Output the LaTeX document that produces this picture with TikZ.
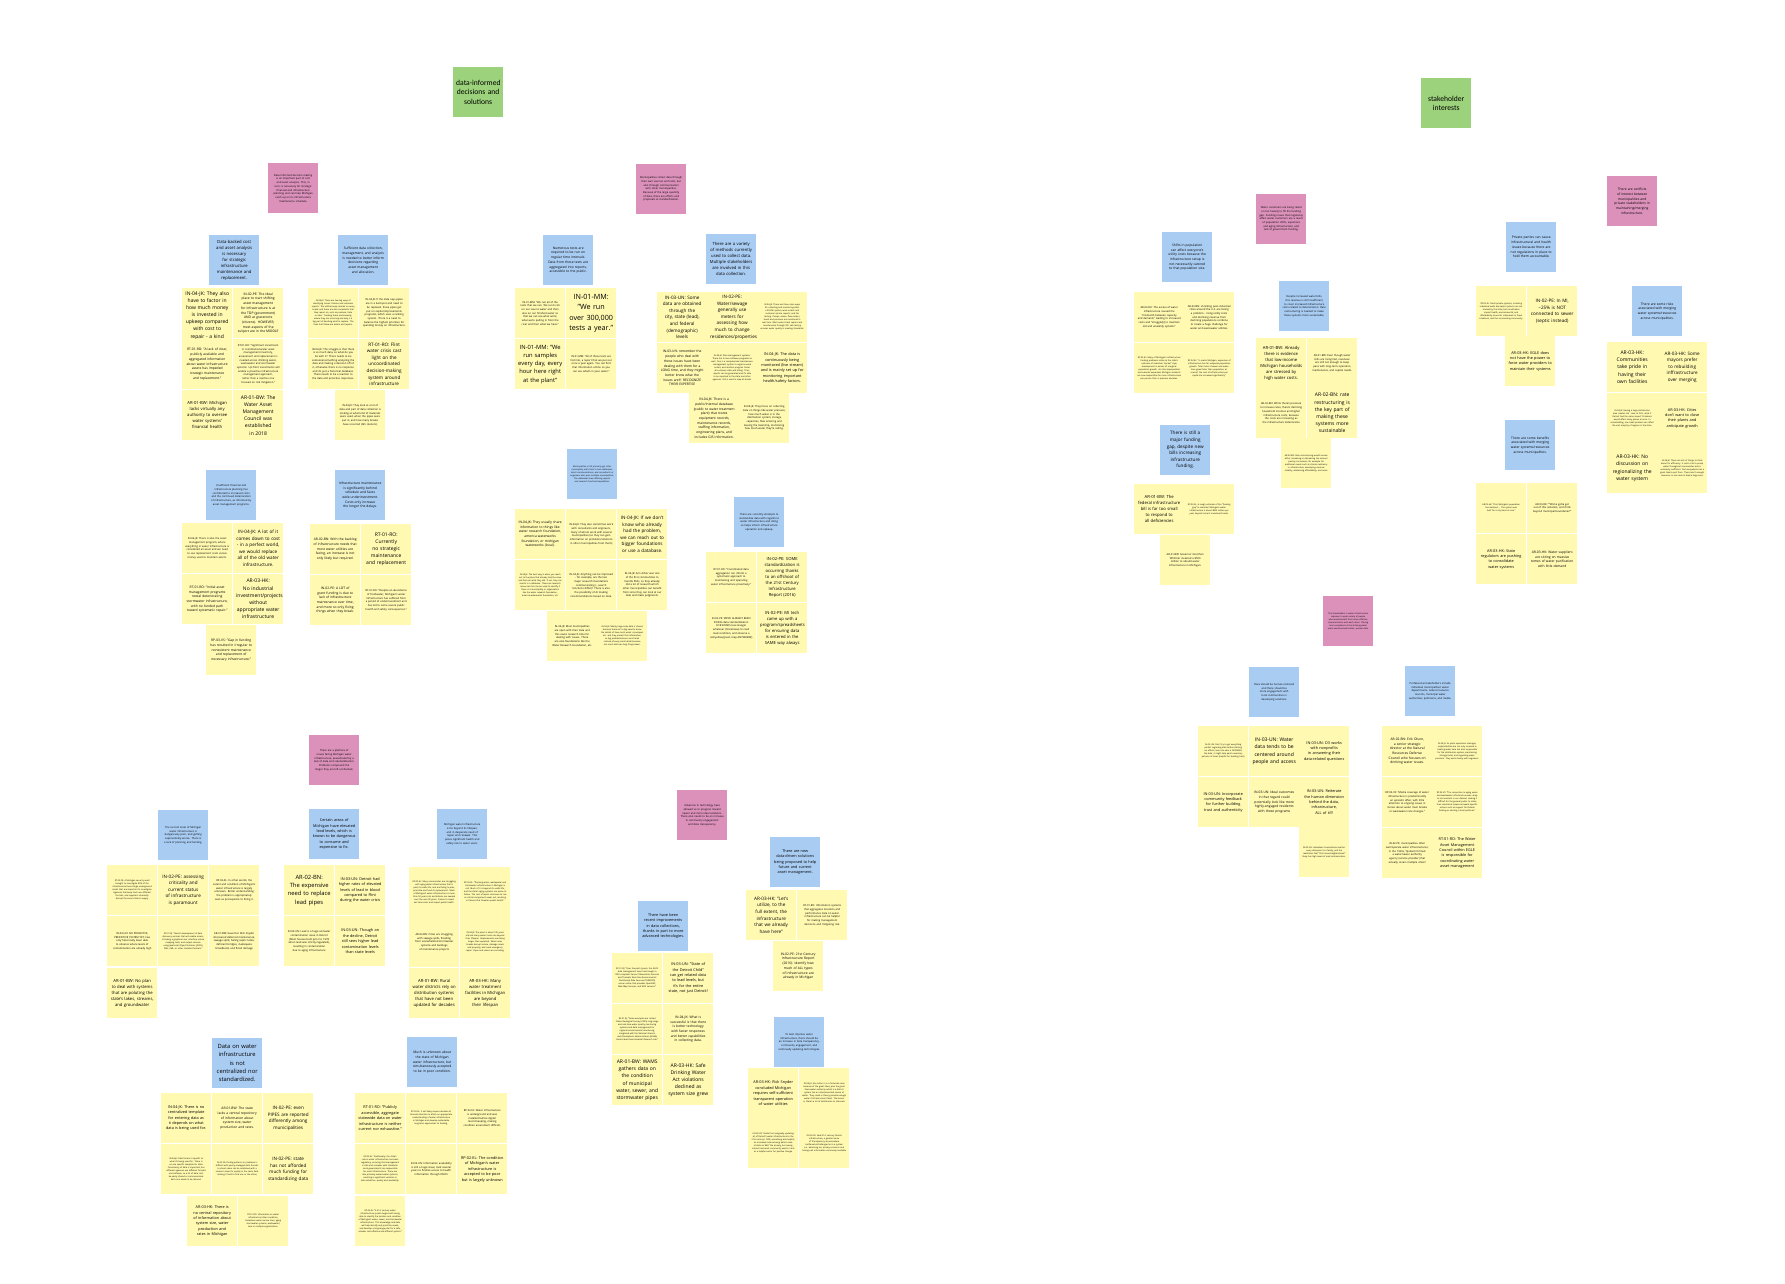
\documentclass[tikz,border=0pt]{standalone}
\usepackage{fontspec}
\setmainfont{Open Sans}
\newfontfamily\headfont{Carlito}
\definecolor{stickyyellow}{HTML}{FFF9B1}
\definecolor{stickyblue}{HTML}{A9CCF3}
\definecolor{stickypink}{HTML}{DB91BA}
\definecolor{stickygreen}{HTML}{9CD27B}
\hyphenpenalty=10000
\exhyphenpenalty=10000
\pgfkeys{tikz/stickynote/.style={anchor=north west,minimum width=50pt,minimum height=50pt,text width=44pt,inner sep=3pt,align=center}}
\pgfkeys{tikz/yel/.style={stickynote,fill=stickyyellow}}
\pgfkeys{tikz/blu/.style={stickynote,fill=stickyblue}}
\pgfkeys{tikz/pnk/.style={stickynote,fill=stickypink}}
\pgfkeys{tikz/grn/.style={stickynote,fill=stickygreen,font=\headfont\fontsize{7.6}{9.4}\selectfont}}
\pgfkeys{tikz/fA/.style={font=\fontsize{7.2}{10.6}\selectfont}}
\pgfkeys{tikz/fB/.style={font=\fontsize{5.8}{8.3}\selectfont}}
\pgfkeys{tikz/fC/.style={font=\fontsize{5.0}{7.2}\selectfont}}
\pgfkeys{tikz/fCC/.style={font=\fontsize{4.6}{6.6}\selectfont}}
\pgfkeys{tikz/fD/.style={font=\fontsize{4.2}{6.0}\selectfont}}
\pgfkeys{tikz/fDD/.style={font=\fontsize{3.8}{5.4}\selectfont}}
\pgfkeys{tikz/fE/.style={font=\fontsize{3.3}{4.7}\selectfont}}
\pgfkeys{tikz/fF/.style={font=\fontsize{2.6}{3.7}\selectfont}}
\pgfkeys{tikz/fG/.style={font=\fontsize{2.1}{3.0}\selectfont}}
\begin{document}
\begin{tikzpicture}[x=1pt,y=-1pt]
\useasboundingbox[fill=white] (0,0) rectangle (1785,1284);
% themes
\draw (453,67) node[grn] (theme1) {data-informed decisions and solutions};
\draw (1421,78) node[grn] (theme2) {stakeholder interests};
% cost and asset analysis
\draw (268,163) node[pnk,fF] (pa) {Data-informed decision making is an important part of cost and asset analysis. This, in turn, is necessary for strategic financial and infrastructure planning and can help Michigan catch up on its infrastructure maintenance schedule.};
\draw (209,235) node[blu,fD] (ba1) {Data-backed cost and asset analysis is necessary for strategic infrastructure maintenance and replacement.};
\draw (338,235) node[blu,fE] (ba2) {Sufficient data collection, management, and analysis is needed to better inform decisions regarding asset management and allocation.};
\draw (182,288) node[yel,fC] (a1) {IN-04-JK: They also have to factor in how much money is invested in upkeep compared with cost to repair - a kind of cost analysis.};
\draw (233,288) node[yel,fE] (a2) {IN-02-PE: The ideal place to start shifting asset management for infrastructure is at the TOP (government) AND at grassroots (citizens). HOWEVER, most aspects of the subject are in the MIDDLE};
\draw (182,339) node[yel,fE] (a3) {RT-01-RO: "A lack of clear, publicly available and aggregated information about water infrastructure assets has impeded strategic maintenance and replacement."};
\draw (233,339) node[yel,fF] (a4) {RT-01-RO: "Significant investment in coordinated water asset management inventory, assessment and replacement is needed across drinking water, wastewater and stormwater systems. Up-front investments will enable a proactive infrastructure management approach, rather than a reactive one focused on risk mitigation."};
\draw (182,390) node[yel,fD] (a5) {AR-01-BW: Michigan lacks virtually any authority to oversee water systems' financial health};
\draw (233,390) node[yel,fC] (a6) {AR-01-BW: The Water Asset Management Council was established in 2018};
\draw (308,288) node[yel,fG] (a7) {IN-04-JK: There are two big ways of identifying issues: failures and customer reports. The utilities keep records on every break, and there are also complaints that they report on, such as pressure, taste or odor. Tracking these and knowing where they are occurring and why is a big part of deciding what to replace. The fixes that follow are assets and repairs.};
\draw (359,288) node[yel,fF] (a8) {IN-04-JK: If the data says pipes are in a bad spot and need to be replaced, these pipes get put on capital improvements programs, which uses a ranking system. There is a need to balance the highest priorities for spending money on infrastructure.};
\draw (308,339) node[yel,fF] (a9) {IN-04-JK: The struggle is that there is so much data, so what do you do with it? There needs to be someone/something analyzing the data and making a decision off of it, otherwise there is no response and it's just a historical database. There needs to be a reaction to the data and proactive responses.};
\draw (359,339) node[yel,fCC] (a10) {RT-01-RO: Flint water crisis cast light on the uncoordinated decision-making system around infrastructure};
\draw (335,390) node[yel,fF] (a11) {IN-04-JK: They look at a lot of data and part of data collection is looking at what kind of materials were used, when the pipes were put in, and how many breaks have occurred (GIS clusters).};
% planning and maintenance
\draw (206,470) node[blu,fF] (bb1) {Insufficient financial and infrastructure planning has contributed to increased costs and the continued deterioration of infrastructure, as informed by asset management programs.};
\draw (335,470) node[blu,fE] (bb2) {Infrastructure maintenance is significantly behind schedule and faces wide underinvestment. Costs only increase the longer the delays.};
\draw (182,523) node[yel,fF] (b1) {IN-04-JK: There is also the asset management program, where everything in water infrastructure is considered an asset and we need to see replacement costs versus money used to maintain assets.};
\draw (233,523) node[yel,fCC] (b2) {IN-04-JK: A lot of it comes down to cost - in a perfect world, we would replace all of the old water infrastructure.};
\draw (182,574) node[yel,fE] (b3) {RT-01-RO: "Initial asset management programs reveal deteriorating stormwater infrastructure, with no funded path toward systematic repair."};
\draw (233,574) node[yel,fC] (b4) {AR-03-HK: No industrial investment/projects without appropriate water infrastructure};
\draw (206,625) node[yel,fE] (b5) {RP-03-VS: "Gap in funding has resulted in irregular to nonexistent maintenance and replacement of necessary infrastructure."};
\draw (310,524) node[yel,fE] (b6) {AR-02-BN: With the backlog of infrastructure needs that most water utilities are facing, an increase is not only likely but required.};
\draw (361,524) node[yel,fC] (b7) {RT-01-RO: Currently no strategic maintenance and replacement};
\draw (310,575) node[yel,fE] (b8) {IN-02-PE: A LOT of grant funding is due to lack of infrastructure maintenance over time, and more so only fixing things when they break.};
\draw (361,575) node[yel,fF] (b9) {RT-01-RO: "Despite an abundance of freshwater, Michigan's water infrastructure has suffered from a period of underinvestment and has led to some severe public health and safety consequences."};
% collecting data
\draw (636,164) node[pnk,fF] (pc) {Municipalities collect data through their own sources and tests, but also through communication with other municipalities. Because of the large quantity of data, there are efforts and proposals at standardization.};
\draw (543,235) node[blu,fE] (bc1) {Numerous tests are required to be run on regular time intervals. Data from these tests are aggregated into reports, accessible to the public.};
\draw (706,234) node[blu,fD] (bc2) {There are a variety of methods currently used to collect data. Multiple stakeholders are involved in this data collection.};
\draw (515,288) node[yel,fF] (c1) {IN-01-MM: "We run all of the tests that we can. We run E.coli on our source water and then also on our finished water so that we can see what we're, what we're pulling in from the river and then what we have."};
\draw (566,288) node[yel,fA] (c2) {IN-01-MM: "We run over 300,000 tests a year."};
\draw (515,339) node[yel,fB] (c3) {IN-01-MM: "We run samples every day, every hour here right at the plant"};
\draw (566,339) node[yel,fF] (c4) {IN-01-MM: "All of those tests are fed into, a report that we put out once a year again. You can find that information online so you can see what's in your water."};
\draw (657,292) node[yel,fCC] (c5) {IN-03-UN: Some data are obtained through the city, state (lead), and federal (demographic) levels};
\draw (707,292) node[yel,fCC] (c6) {IN-02-PE: Water/sewage generally use meters for assessing how much to change residences/properties};
\draw (757,292) node[yel,fG] (c7) {IN-04-JK: There are three main ways for collecting and monitoring data: a SCADA system, work orders and customer service reports, and lab testing. Pumps, valves, flow meters, levels and pressure are monitored in real time. Work orders track repairs and maintenance through GIS. Lab testing ensures water quality is meeting standards.};
\draw (657,343) node[yel,fE] (c8) {IN-03-UN: remember the people who deal with these issues have been dealing with them for a LONG time, and they might better know what the issues are!!! RECOGNIZE THEIR EXPERTISE};
\draw (707,343) node[yel,fG] (c9) {IN-04-JK: Data management systems: There are 3 main software programs as well. One is a computerized maintenance management system to organize work orders, and another program tracks all customer data and billing. Then, reports can be generated and it's able to be reported to the state and other agencies. GIS is used to map all assets.};
\draw (757,343) node[yel,fDD] (c10) {IN-04-JK: The data is continuously being monitored (live stream) and is mainly set up for monitoring important health/safety factors.};
\draw (689,393) node[yel,fE] (c11) {IN-04-JK: There is a public/internal database (public to water treatment plant) that stores equipment records, maintenance records, staffing information, engineering plans, and includes GIS information.};
\draw (739,393) node[yel,fF] (c12) {IN-04-JK: They focus on collecting data on things like water pressure, how much water is in the distribution system, storage capacities, flow entering and leaving the township, monitoring how much water they're selling.};
% sharing and standardizing data
\draw (567,449) node[blu,fG] (bd1) {Municipalities in MI primarily get other municipality data from 3 main databases, direct communications, and consultants or engineers who span multiple municipalities. The databases have differing reports and research functions/capabilities.};
\draw (515,509) node[yel,fE] (d1) {IN-04-JK: They usually share information to things like: water research foundation, america waterworks foundation, or michigan waterworks (local).};
\draw (566,509) node[yel,fF] (d2) {IN-04-JK: They also sometimes work with consultants and engineers, many of whom work with several municipalities (so they can gain information on problems/solutions in other municipalities from them)};
\draw (617,509) node[yel,fCC] (d3) {IN-04-JK: If we don't know who already had the problem, we can reach out to bigger foundations or use a database.};
\draw (515,560) node[yel,fG] (d4) {IN-04-JK: The best way is when you reach out to the place that already had the issue and find out what they did. If not, they can search in a database. These are research resources that can be used to identify if there is a municipality or organization like the water research foundation, america waterworks foundation, etc.};
\draw (566,560) node[yel,fF] (d5) {IN-04-JK: Anything can be improved - for example, are the two major research foundations communicating (...search functions differ)? There is also the possibility of AI making recommendations based on data.};
\draw (617,560) node[yel,fF] (d6) {IN-04-JK: Ann Arbor was one of the first communities to handle PFAs, so they already did a lot of research which other municipalities can benefit from since they can look at our data and make judgments.};
\draw (547,611) node[yel,fF] (d7) {IN-04-JK: Most municipalities are open with their data and this saves research time for dealing with issues. There are also foundations like the Water Research Foundation, etc.};
\draw (597,611) node[yel,fG] (d8) {IN-04-JK: Mainly large-scale data is shared because there isn't a big need to know the details of how much water is pumped, etc. and they protect that information, so big problems/issues are shared instead of every small detail because too much data can bog things down.};
\draw (734,497) node[blu,fF] (bd2) {There are currently attempts to standardize data with regards to water infrastructure and doing so helps inform infrastructure operation and upkeep.};
\draw (706,552) node[yel,fF] (d9) {RT-01-RO: "Coordinated data aggregation can inform a systematic approach to maintaining and operating water infrastructure proactively."};
\draw (757,552) node[yel,fD] (d10) {IN-02-PE: SOME standardization is occurring thanks to an offshoot of the 21st Century Infrastructure Report (2016)};
\draw (706,603) node[yel,fF] (d11) {IN-02-PE: WE'VE ALREADY BEEN DOING data standardization FOR ROADS (see Google whatever (Streetview) to read road condition, and observe a red/yellow/green map ANYWHERE)};
\draw (757,603) node[yel,fD] (d12) {IN-02-PE: MI tech came up with a program/spreadsheets for ensuring data is entered in the SAME way always};
% state of infrastructure
\draw (309,735) node[pnk,fF] (pe) {There are a plethora of issues facing Michigan water infrastructure, exacerbated by a lack of data and standardization. Problems compound the longer they are left unchecked.};
\draw (158,810) node[blu,fF] (be1) {The current state of Michigan water infrastructure is dangerously poor, and getting exponentially worse. There is a lack of planning and funding.};
\draw (309,809) node[blu,fDD] (be2) {Certain areas of Michigan have elevated lead levels, which is known to be dangerous to consume and expensive to fix.};
\draw (437,809) node[blu,fF] (be3) {Michigan water infrastructure is far beyond its lifespan, and in desperate need of repair and renewal. This poses significant health and safety risk to water users.};
\draw (107,865) node[yel,fG] (e1) {RT-02-PE: A Michigan security audit brought to investigate 80\% of the infrastructure found large underground assets that are important to investigate. Agencies that keep track use different formats, and suppliers inherently disrupt the same citizen's supply.};
\draw (158,865) node[yel,fCC] (e2) {IN-02-PE: assessing criticality and current status of infrastructure is paramount};
\draw (209,865) node[yel,fF] (e3) {RP-02-EL: In other words, the extent and condition of Michigan's water infrastructure is largely unknown. Better understanding the problem is appropriately seen as prerequisite to fixing it.};
\draw (107,916) node[yel,fF] (e4) {IN-03-UN: NO PROACTIVE, PREDICTIVE SYSTEM YET; Has only historically been able to observe where levels of contamination are already high};
\draw (158,916) node[yel,fG] (e5) {RP-01-RJ: "Recent development of data discovery services that will enable access, including a graphical user interface, online mapping tools, and output services using JavaScript Object Notation (JSON), XML, KML, or other standard formats."};
\draw (209,916) node[yel,fF] (e6) {AR-01-BW: Governor Rick Snyder discovered deferred maintenance, sewage spills, failing septic tanks, deficient bridges, inadequate broadband, and flood damage};
\draw (107,968) node[yel,fD] (e7) {AR-01-BW: No plan to deal with systems that are poluting the state's lakes, streams, and groundwater};
\draw (284,865) node[yel,fB] (e8) {AR-02-BN: The expensive need to replace lead pipes};
\draw (335,865) node[yel,fDD] (e9) {IN-03-UN: Detroit had higher rates of elevated levels of lead in blood compared to Flint during the water crisis};
\draw (284,916) node[yel,fF] (e10) {IN-03-UN: Lead is a huge air/water contamination issue in Detroit (Most houses built prior to 1978 when lead was strictly regulated), resulting in contamination due to aging infrastructure};
\draw (335,916) node[yel,fDD] (e11) {IN-03-UN: Though on the decline, Detroit still sees higher lead contamination levels than state levels};
\draw (409,867) node[yel,fG] (e12) {RP-02-EL: Many communities are struggling with aging water infrastructure that is past its useful life, and are failing to plan, prioritize and fund its replacement. Much of Michigan's water infrastructure is more than 50 years old, and billions are needed over the next 20 years. Failure to invest will raise costs and impact public health.};
\draw (460,867) node[yel,fG] (e13) {RP-02-EL: "Drinking water, wastewater and stormwater infrastructure in Michigan is old. Much of it is beyond its useful life, and the state's aging systems are prone to failure. The cost of repair continues to rise as critical components wear out, resulting in failures that threaten public health."};
\draw (409,917) node[yel,fF] (e14) {AR-02-BN: Cities are struggling with sewage spills, flooding from overwhelmed stormwater systems and backlogs of maintenance projects};
\draw (460,917) node[yel,fG] (e15) {IN-04-JK: The plant is about 100 years old and many water mains are beyond their lifespan. Replacements are taking longer than expected. Water main breaks disrupt service, damage roads and property, and need emergency repair. Pipes and valves are corroding.};
\draw (409,968) node[yel,fD] (e16) {AR-01-BW: Rural water districts rely on distribution systems that have not been updated for decades};
\draw (460,968) node[yel,fD] (e17) {AR-03-HK: Many water treatment facilities in Michigan are beyond their lifespan};
% centralized data
\draw (212,1038) node[blu,fB] (bf1) {Data on water infrastructure is not centralized nor standardized.};
\draw (407,1037) node[blu,fE] (bf2) {Much is unknown about the state of Michigan water infrastructure, but simultaneously accepted to be in poor condition.};
\draw (161,1093) node[yel,fDD] (f1) {IN-04-JK: There is no centralized template for entering data as it depends on what data is being used for.};
\draw (212,1093) node[yel,fE] (f2) {AR-01-BW: The state lacks a central repository of information about system size, water production and rates.};
\draw (263,1093) node[yel,fCC] (f3) {IN-02-PE: even PIPES are reported differently among municipalities};
\draw (161,1144) node[yel,fG] (f4) {IN-04-JK: Data format is specific to what it's being used for. There is no one specific template for data. Consistency of data is important, but different agencies use different formats and software, so a lot of data can't be easily shared or communicated. Each one needs to be tailored.};
\draw (212,1144) node[yel,fG] (f5) {IN-02-PE: finding patterns in problems is difficult with poorly-managed data formats (a street name can be combined with a numeric value for quality in the same field, making it hard to find one or the other)};
\draw (263,1144) node[yel,fCC] (f6) {IN-02-PE: state has not afforded much funding for standardizing data};
\draw (187,1196) node[yel,fDD] (f7) {AR-03-HK: There is no central repository of information about system size, water production and rates in Michigan};
\draw (238,1196) node[yel,fG] (f8) {RT-01-RO: Information on water infrastructure (their condition, hazardous water service lines, aging stormwater systems, wastewater) lives in multiple organizations.};
\draw (355,1093) node[yel,fDD] (f9) {RT-01-RO: "Publicly accessible, aggregate statewide data on water infrastructure is neither current nor exhaustive."};
\draw (406,1093) node[yel,fG] (f10) {RP-02-EL: It will likely require decades of focused attention to attain an appropriate understanding of water infrastructure in Michigan and develop sustainable long-term approaches to funding.};
\draw (457,1093) node[yel,fF] (f11) {RP-02-EL: Water infrastructure is underground and was installed before digital record keeping, making condition assessment difficult.};
\draw (355,1144) node[yel,fG] (f12) {RP-02-EL: Traditionally, the state's role in water infrastructure has been regulatory, ensuring that management is safe and complies with standards. Local governments are responsible for most infrastructure. There are also privately owned water systems, resulting in significant variation in data collection, quality and availability.};
\draw (406,1144) node[yel,fF] (f13) {IN-03-UN: Information availability is still a huge issue; took several years to finalize access to health information through DHHS};
\draw (457,1144) node[yel,fDD] (f14) {RP-02-EL: The condition of Michigan's water infrastructure is accepted to be poor but is largely unknown};
\draw (355,1196) node[yel,fG] (f15) {RP-02-EL: "A 21st century water infrastructure system begins with being able to identify the location and condition of Michigan's water, sewer, and stormwater infrastructure. This knowledge and data will help identify and prioritize needs, and develop a long-range plan for a safe, reliable, cost-effective and efficient system."};
% technology and transparency
\draw (677,790) node[pnk,fF] (pg) {Advances in technology have allowed us to progress toward newer and more ideal solutions. There also needs to be an increase in community engagement and data transparency.};
\draw (770,837) node[blu,fDD] (bg1) {There are new data-driven solutions being proposed to help future and current asset management.};
\draw (746,890) node[yel,fCC] (g1) {AR-03-HK: "Let's utilize, to the full extent, the infrastructure that we already have here"};
\draw (797,890) node[yel,fF] (g2) {RT-01-RO: Information systems that aggregates locations and performance data on water infrastructure can be helpful for making management decisions and mitigating risk.};
\draw (773,941) node[yel,fE] (g3) {IN-02-PE: 21st Century Infrastructure Report (2016): identify how much of ALL types of infrastructure are already in Michigan};
\draw (638,901) node[blu,fDD] (bg2) {There have been recent improvements in data collections, thanks in part to more advanced technologies.};
\draw (612,953) node[yel,fG] (g4) {RP-01-RJ: "Over the past 4 years, the GLOS data management team has brought a OGC-compliant Sensor Observation Services and Thematic Real-time Environmental Distributed Data Services (THREDDS) server online that provides OpenDAP, Web Map Services, and WCS services."};
\draw (663,953) node[yel,fDD] (g5) {IN-03-UN: "State of the Detroit Child" can get related data to lead levels, but it's for the entire state, not just Detroit!};
\draw (612,1004) node[yel,fG] (g6) {RP-01-RJ: "Some examples are United States Geological Survey (USGS) long-range and real-time water quality monitoring systems and data management for regional environmental monitoring, integrated with the National Oceanic and Atmospheric Administration (NOAA) Great Lakes Environmental Research Lab."};
\draw (663,1004) node[yel,fE] (g7) {IN-04-JK: What is successful is that there is better technology with faster responses and better capabilities in collecting data.};
\draw (612,1055) node[yel,fC] (g8) {AR-01-BW: WAMS gathers data on the condition of municipal water, sewer, and stormwater pipes};
\draw (663,1055) node[yel,fC] (g9) {AR-03-HK: Safe Drinking Water Act violations declined as system size grew};
\draw (774,1017) node[blu,fF] (bg3) {To best improve water infrastructure, there should be an increase in data transparency, community engagement, and continually updating technologies.};
\draw (748,1068) node[yel,fDD] (g10) {AR-03-HK: Rick Snyder concluded Michigan requires self-sufficient transparent operation of water utilities};
\draw (799,1068) node[yel,fG] (g11) {IN-04-JK: Ann Arbor is in a fortunate area because of the great lakes, plus the great lakes water authority which is a district system has an interconnected source of water. They could in theory provide enough water if infrastructure failed. The lesson is, there's a lot of distribution to channels.};
\draw (748,1118) node[yel,fG] (g12) {IN-03-UN: "Aside from magically updating all of Detroit's water infrastructure to the 21st century? OOR, something else helpful; an increased culture being able to look at data on WHY the anxiety, but seeing interest and work community wants it and as a helpful vector for positive change};
\draw (799,1118) node[yel,fG] (g13) {IN-03-UN: Ideal 21st century Detroit infrastructure; a greater sense of Transparency around where bottlenecks/challenges lie in a system (i.e. balancing our privacy concerns and having vast information commonly available};
% funding
\draw (1256,194) node[pnk,fF] (ph) {Water customers are being relied on too heavily to fill the funding gap. Funding issues that negatively affect water customers are a result of population shifts, expensive and aging infrastructure, and lack of government funding.};
\draw (1162,232) node[blu,fE] (bh1) {Shifts in population can affect everyone's utility costs because the infrastructure setup is not necessarily catered to that population size.};
\draw (1279,281) node[blu,fF] (bh2) {Despite increased water bills, this revenue is still insufficient to cover increased infrastructure costs related to deterioration. Rate restructuring is needed to make these systems more sustainable.};
\draw (1134,292) node[yel,fF] (h1) {AR-03-HK: The excess of water infrastructure caused the "mismatch between capacity and demand," leading to increased costs and "struggle[s] to maintain old and unwieldy systems"};
\draw (1184,292) node[yel,fF] (h2) {AR-02-BN: shrinking post-industrial cities around the U.S. are facing a problem - rising utility costs and declining revenue from declining populations combine to create a huge challenge for water and wastewater utilities.};
\draw (1134,343) node[yel,fG] (h3) {RP-02-EL: Many of Michigan's infrastructure funding problems relate to the state's embrace of suburban "sprawl" style development in excess of marginal population growth. As cities depopulated and suburbs expanded, Michigan residents are now responsible for more infrastructure per person than in previous decades.};
\draw (1184,343) node[yel,fG] (h4) {RP-02-EL: "In metro Michigan, expansion of infrastructure has far outpaced population growth. Total miles of sewer and water lines grew faster than population; as a result, the cost of infrastructure per capita has increased significantly."};
\draw (1256,338) node[yel,fD] (h5) {AR-01-BW: Already there is evidence that low-income Michigan households are stressed by high water costs.};
\draw (1307,338) node[yel,fF] (h6) {AR-01-BW: Even though water bills are rising fast, revenues are still not enough to keep pace with long-term operation, maintenance, and capital needs.};
\draw (1256,388) node[yel,fF] (h7) {AR-02-BN: While there's pressure to increase rates, there's declining household incomes and higher infrastructure costs, because the costs are increasing as the infrastructure deteriorates};
\draw (1307,388) node[yel,fC] (h8) {AR-02-BN: rate restructuring is the key part of making these systems more sustainable};
\draw (1281,438) node[yel,fG] (h9) {AR-02-BN: Rate restructuring would involve either increasing or decreasing the amount paid by consumers, for example for additional needs such as climate resiliency in infrastructure, developing revenue stability, addressing affordability, and more};
\draw (1160,425) node[blu,fCC] (bh3) {There is still a major funding gap, despite new bills increasing infrastructure funding.};
\draw (1134,484) node[yel,fD] (h10) {AR-01-BW: The federal infrastructure bill is far too small to respond to all deficiencies};
\draw (1184,484) node[yel,fG] (h11) {RP-02-EL: A rough estimate of the "funding gap" to maintain Michigan's water infrastructure is about \$800 million per year, beyond current investment levels.};
\draw (1160,535) node[yel,fF] (h12) {AR-01-BW: Governor Gretchen Whitmer invested a \$500 million to rebuild water infrastructure in Michigan.};
% merging systems
\draw (1607,176) node[pnk,fE] (pi) {There are conflicts of interest between municipalities and private stakeholders in maintaining/merging infrastructure.};
\draw (1506,222) node[blu,fE] (bi1) {Private parties can cause infrastructural and health issues because there are not regulations in place to hold them accountable.};
\draw (1476,286) node[yel,fG] (i1) {RP-02-EL: Small private systems, including individual wells and septic systems are not tracked by the state, but nonetheless impact health, environmental, and affordability issues for individuals in these situations, and the surrounding community.};
\draw (1527,286) node[yel,fCC] (i2) {IN-02-PE: In MI, \textasciitilde25\% is NOT connected to sewer (septic instead)};
\draw (1505,336) node[yel,fDD] (i3) {AR-03-HK: EGLE does not have the power to force water providers to maintain their systems};
\draw (1632,286) node[blu,fE] (bi2) {There are some risks associated with merging water systems/resources across municipalities.};
\draw (1607,342) node[yel,fC] (i4) {AR-03-HK: Communities take pride in having their own facilities};
\draw (1657,342) node[yel,fCC] (i5) {AR-03-HK: Some mayors prefer to rebuilding inffrastructure over merging};
\draw (1607,393) node[yel,fG] (i6) {IN-04-JK: Having a large distribution area creates risk - look at Flint: what if Detroit had the same issues? Problems would affect many places at once. In consolidating, one small problem can affect the vast majority of regions in the state.};
\draw (1657,393) node[yel,fDD] (i7) {AR-03-HK: Cities don't want to close their plants and anticipate growth};
\draw (1607,443) node[yel,fC] (i8) {AR-03-HK: No discussion on regionalizing the water system};
\draw (1657,443) node[yel,fG] (i9) {IN-04-JK: There are lots of things to think about for efficiency. It costs a lot to pump water throughout communities and is extremely inefficient. Not everywhere has a great lake to pull from. There aren't enough resources in one area to feed a large area.};
\draw (1505,420) node[blu,fE] (bi3) {There are some benefits associated with merging water systems/resources across municipalities.};
\draw (1476,483) node[yel,fG] (i10) {AR-03-HK: "Flint Michigan's population has declined ... The system was built for a city twice its size."};
\draw (1527,483) node[yel,fF] (i11) {AR-03-HK: ""We've gotta get out of this isolation, and think beyond municipal boundaries""};
\draw (1476,534) node[yel,fDD] (i12) {AR-03-HK: State regulators are pushing to consolidate water systems};
\draw (1527,534) node[yel,fE] (i13) {AR-03-HK: Water suppliers are sitting on massive tomes of water purification with little demand};
% human-centered data
\draw (1323,596) node[pnk,fG] (pj) {The stakeholders in water infrastructure represent a wide variety of people who would benefit from more effective communication with each other. Placing more emphasis on the drinking water users would provide better, quicker data.};
\draw (1249,667) node[blu,fF] (bj1) {Data should be human-centered and there should be more engagement with local communities in developing solutions.};
\draw (1198,726) node[yel,fG] (j1) {IN-03-UN: Don't try to get everything perfect regarding data before starting on efforts; look into who is DEFINING the data, it might help paint necessary pictures at times (helpful for building trust)};
\draw (1249,726) node[yel,fC] (j2) {IN-03-UN: Water data tends to be centered around people and access};
\draw (1299,726) node[yel,fDD] (j3) {IN-03-UN: D3 works with nonprofits in answering their data-related questions};
\draw (1198,777) node[yel,fDD] (j4) {IN-03-UN: Incorporate community feedback for further building trust and authenticity};
\draw (1249,777) node[yel,fE] (j5) {IN-03-UN: Ideal outcomes in that regard could potentially look like more highly-engaged residents with these programs};
\draw (1299,777) node[yel,fDD] (j6) {IN-03-UN: Reiterate the human dimension behind the data, infrastructure, ALL of it!!!};
\draw (1299,827) node[yel,fG] (j7) {IN-03-UN: Individual circumstances matter: every data point is a family, and the realization that "this house/neighborhood" likely has high levels of lead contamination.};
% professional stakeholders
\draw (1405,666) node[blu,fF] (bk1) {Professional stakeholders include individual municipalities' water departments, natural resource councils, municipal water authorities, politicians, and media.};
\draw (1382,726) node[yel,fE] (k1) {AR-02-BN: Erik Olson, a senior strategic director at the Natural Resources Defense Council who focuses on drinking water issues.};
\draw (1432,726) node[yel,fG] (k2) {IN-04-JK: As plant operations manager, responsibilities are not only involved in treating water here but also responsible for the distribution system, maintaining storage tanks, and regulating water pressure. They work closely with engineers.};
\draw (1382,777) node[yel,fF] (k3) {RP-03-VS: "Media coverage of water infrastructure is predominantly an episodic affair, with little attention to ongoing issues in stories about water main breaks or wastewater rate changes."};
\draw (1432,777) node[yel,fG] (k4) {RP-03-VS: "The connection to aging water and wastewater infrastructure was rarely to non-existent in our dataset, making it difficult for the general public to relate their emotional response toward specific actions such as support for federal funding or electing a local politician."};
\draw (1382,828) node[yel,fF] (k5) {IN-02-PE: municipalities often own/operate water infrastructures; in the 1920s, Ypsilanti formed a water/sewer authority agency (service provider) that actually covers multiple cities!!};
\draw (1432,828) node[yel,fDD] (k6) {RT-01-RO: The Water Asset Management Council within EGLE is responsible for coordinating water asset management};
\end{tikzpicture}
\end{document}
